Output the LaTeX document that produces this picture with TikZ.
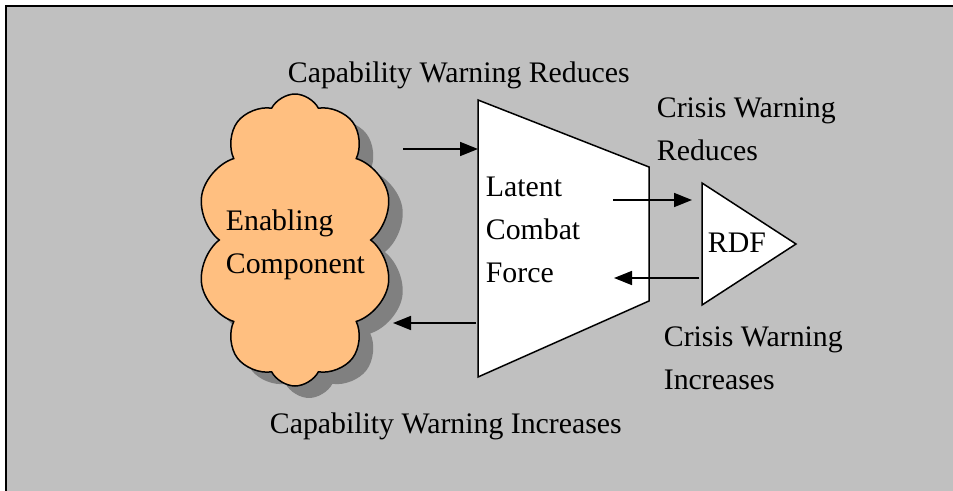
\documentclass[tikz,border=0pt]{standalone}
\usepackage{fontspec}
\setmainfont{Liberation Serif}
\usepackage{xcolor}
\usetikzlibrary{arrows.meta,shapes.symbols,shadows}
\definecolor{panelgray}{HTML}{C0C0C0}
\definecolor{shadowgray}{HTML}{808080}
\definecolor{cloudorange}{HTML}{FFBF80}

\begin{document}
\begin{tikzpicture}[x=1pt,y=-1pt,line width=1.8pt,
		>={Triangle[length=18pt,width=14pt]},
		lbl/.style={font=\fontsize{29.8}{43}\selectfont,inner sep=0pt,anchor=base west,align=left},
		flow/.style={->,line width=1.6pt}]
			\useasboundingbox (0,0) rectangle (953,490);
			\draw[fill=panelgray] (6,6) rectangle (980,520);
	
			% enabling component
			\node[cloud,cloud puffs=10,cloud puff arc=125,cloud ignores aspect,minimum width=196pt,minimum height=292pt,
				draw,fill=cloudorange,line width=1.5pt,
				drop shadow={shadow xshift=14pt,shadow yshift=-12pt,fill=shadowgray,opacity=1}] (ec) at (295,240) {};
			% base of a multi-line node is the last line
			\node[lbl] (ectxt) at (225,273) {Enabling\\Component};
	
			% latent combat force
			\draw[fill=white,line width=1.5pt] (478,100) coordinate (lcftl) -- (649,167) coordinate (lcftr)
				-- (649,301) coordinate (lcfbr) -- (478,377) coordinate (lcfbl) -- cycle;
			\node[lbl] (lcf) at (485,282) {Latent\\Combat\\Force};
	
			% rdf
			\draw[fill=white,line width=1.5pt] (702,183) coordinate (rdft) -- (796,244) coordinate (rdfa)
				-- (702,305) coordinate (rdfb) -- cycle;
			\node[lbl] (rdf) at (707,252) {RDF};
	
			\coordinate (capin) at (403,149);
			\coordinate (capinend) at (478,149);
			\coordinate (capout) at (476,323);
			\coordinate (capoutend) at (393,323);
			\coordinate (crin) at (613,200);
			\coordinate (crinend) at (692,200);
			\coordinate (crout) at (699,278);
			\coordinate (croutend) at (614,278);
	
			\draw[flow] (capin) -- (capinend);
			\draw[flow] (capout) -- (capoutend);
			\draw[flow] (crin) -- (crinend);
			\draw[flow] (crout) -- (croutend);
	
			\node[lbl] (capred) at (287,82) {Capability Warning Reduces};
			\node[lbl] (capinc) at (269,433) {Capability Warning Increases};
			\node[lbl] (crred) at (656,160) {Crisis Warning\\Reduces};
			\node[lbl] (crinc) at (663,389) {Crisis Warning\\Increases};
\end{tikzpicture}
\end{document}
